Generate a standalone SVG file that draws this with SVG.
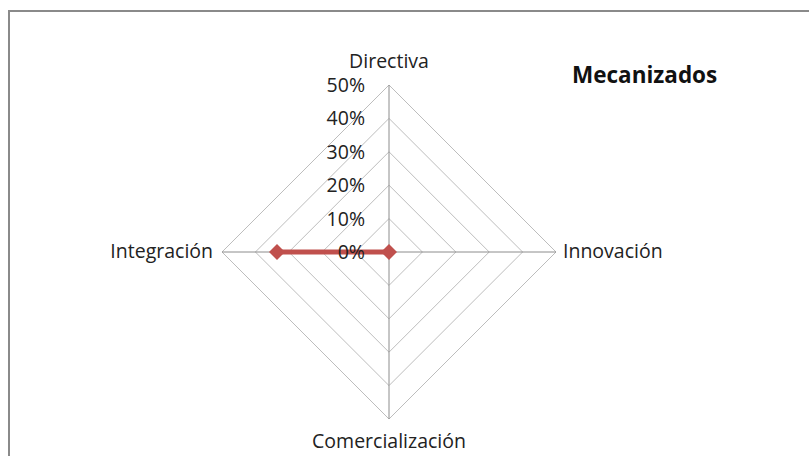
<svg xmlns="http://www.w3.org/2000/svg" width="809" height="456" viewBox="0 0 809 456">
<style>
.t{font-family:"Open Sans","Liberation Sans",sans-serif;font-size:19.5px;fill:#222}
.ring{fill:none;stroke:#bdbdbd;stroke-width:1}
.axis{stroke:#8c8c8c;stroke-width:1}
</style>
<defs>
<path id="dia" d="M0,-8 L8,0 L0,8 L-8,0 Z" fill="#C0504D"/>
</defs>
<rect x="0" y="0" width="809" height="456" fill="#fff"/>
<rect x="9" y="11" width="820" height="470" fill="none" stroke="#8a8a8a" stroke-width="2"/>
<g id="grid">
<polygon class="ring" points="389,85 556,252 389,419 222,252"/>
<polygon class="ring" points="389,118.4 522.6,252 389,385.6 255.4,252"/>
<polygon class="ring" points="389,151.8 489.2,252 389,352.2 288.8,252"/>
<polygon class="ring" points="389,185.2 455.8,252 389,318.8 322.2,252"/>
<polygon class="ring" points="389,218.6 422.4,252 389,285.4 355.6,252"/>
<line class="axis" x1="389" y1="85" x2="389" y2="419"/>
<line class="axis" x1="222" y1="252" x2="556" y2="252"/>
</g>
<g id="series">
<line x1="277" y1="252" x2="389" y2="252" stroke="#C0504D" stroke-width="5"/>
<use href="#dia" x="277" y="252"/>
<use href="#dia" x="389" y="252"/>
</g>
<g id="ticks">
<text class="t" x="365" y="92" text-anchor="end">50%</text>
<text class="t" x="365" y="125.4" text-anchor="end">40%</text>
<text class="t" x="365" y="158.8" text-anchor="end">30%</text>
<text class="t" x="365" y="192.2" text-anchor="end">20%</text>
<text class="t" x="365" y="225.6" text-anchor="end">10%</text>
<text class="t" x="365" y="259" text-anchor="end">0%</text>
</g>
<g id="node-directiva"><text class="t" x="389" y="68" text-anchor="middle">Directiva</text></g>
<g id="node-innovacion"><text class="t" x="563" y="258">Innovación</text></g>
<g id="node-comercializacion"><text class="t" x="389" y="448" text-anchor="middle">Comercialización</text></g>
<g id="node-integracion"><text class="t" x="213" y="258" text-anchor="end">Integración</text></g>
<g id="title"><text x="572" y="83" font-family="Open Sans, Liberation Sans, sans-serif" font-size="22.5" font-weight="bold" fill="#111">Mecanizados</text></g>
</svg>
